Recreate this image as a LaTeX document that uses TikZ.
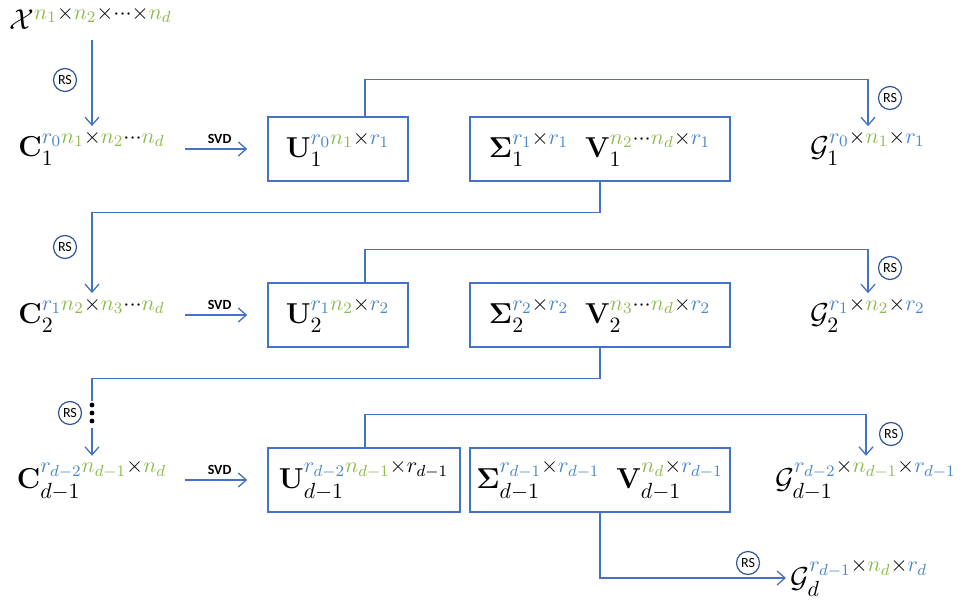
\documentclass[tikz,border=0pt]{standalone}
\usepackage[no-math]{fontspec}
\setsansfont{Carlito}
\usepackage{amsmath}
\usetikzlibrary{arrows.meta}

\definecolor{lineblue}{HTML}{4472C4}
\definecolor{rsblue}{HTML}{2F5597}
\definecolor{rankblue}{HTML}{4A87C8}
\definecolor{dimgreen}{HTML}{8DBA4E}

\DeclareMathSizes{14.4}{14.4}{11}{8.5}

% ranks in blue, dimensions in green
\newcommand{\rk}[1]{\textcolor{rankblue}{#1}}
\newcommand{\dm}[1]{\textcolor{dimgreen}{#1}}

\begin{document}
\begin{tikzpicture}[x=0.5pt,y=-0.5pt,
	flow/.style={lineblue, line width=0.65pt, -{Straight Barb[length=4pt,width=7pt]}},
	wire/.style={lineblue, line width=0.65pt},
	box/.style={draw=lineblue, line width=0.75pt, minimum height=32pt, inner sep=0pt, font=\Large},
	tens/.style={font=\Large, inner sep=2pt},
	rs/.style={circle, draw=rsblue, line width=0.6pt, minimum size=11.5pt, inner sep=0pt, font=\sffamily\fontsize{7}{7}\selectfont},
	svd/.style={black, font=\sffamily\bfseries\fontsize{7}{8}\selectfont, inner sep=2.5pt}]

	\useasboundingbox (0,0) rectangle (962,608);

	%tensors on the left
	\node[tens] (X) at (91,18) {$\mathcal{X}^{\dm{n_1}\times\dm{n_2}\times\cdots\times\dm{n_d}}$};
	\node[tens] (C1) at (92,148) {$\mathbf{C}_1^{\rk{r_0}\dm{n_1}\times\dm{n_2}\cdots\dm{n_d}}$};
	\node[tens] (C2) at (92,315) {$\mathbf{C}_2^{\rk{r_1}\dm{n_2}\times\dm{n_3}\cdots\dm{n_d}}$};
	\node[tens] (Cd) at (92,480) {$\mathbf{C}_{d-1}^{\rk{r_{d-2}}\dm{n_{d-1}}\times\dm{n_d}}$};

	%SVD factors
	\node[box, minimum width=70pt] (U1) at (338,149) {$\mathbf{U}_1^{\rk{r_0}\dm{n_1}\times\rk{r_1}}$};
	\node[box, minimum width=130pt] (SV1) at (600,149) {$\mathbf{\Sigma}_1^{\rk{r_1}\times\rk{r_1}}\;\;\mathbf{V}_1^{\dm{n_2}\cdots\dm{n_d}\times\rk{r_1}}$};
	\node[box, minimum width=70pt] (U2) at (338,315) {$\mathbf{U}_2^{\rk{r_1}\dm{n_2}\times\rk{r_2}}$};
	\node[box, minimum width=130pt] (SV2) at (600,315) {$\mathbf{\Sigma}_2^{\rk{r_2}\times\rk{r_2}}\;\;\mathbf{V}_2^{\dm{n_3}\cdots\dm{n_d}\times\rk{r_2}}$};
	\node[box, minimum width=96pt] (Ud) at (364,480) {$\mathbf{U}_{d-1}^{\rk{r_{d-2}}\dm{n_{d-1}}\times r_{d-1}}$};
	\node[box, minimum width=130pt] (SVd) at (600,480) {$\mathbf{\Sigma}_{d-1}^{\rk{r_{d-1}}\times\rk{r_{d-1}}}\;\;\mathbf{V}_{d-1}^{\dm{n_d}\times\rk{r_{d-1}}}$};

	%cores on the right
	\node[tens] (G1) at (868,148) {$\mathcal{G}_1^{\rk{r_0}\times\dm{n_1}\times\rk{r_1}}$};
	\node[tens] (G2) at (868,315) {$\mathcal{G}_2^{\rk{r_1}\times\dm{n_2}\times\rk{r_2}}$};
	\node[tens] (Gd1) at (866,480) {$\mathcal{G}_{d-1}^{\rk{r_{d-2}}\times\dm{n_{d-1}}\times\rk{r_{d-1}}}$};
	\node[tens, anchor=west] (Gd) at (786,578) {$\mathcal{G}_d^{\rk{r_{d-1}}\times\dm{n_d}\times\rk{r_d}}$};

	\coordinate (svdx) at (185,0);
	\coordinate (ux) at (365,0);
	\coordinate (dtop) at (92,401);
	\coordinate (dbot) at (92,428);

	%reshape arrows
	\draw[flow, shorten <=3pt] (X.south -| C1.north) -- (C1.north);
	\draw[flow] (SV1.south) -- ++(0,31) -| (C2.north);
	\draw[wire] (SV2.south) -- ++(0,31) -| (dtop);
	\draw[flow] (dbot) -- (Cd.north);
	\foreach \y in {405,413,421}
		\fill (92,\y) circle (1.2pt);

	%SVD arrows
	\foreach \row in {1,2,d}
	{
		\draw[flow, shorten >=10pt] (svdx |- U\row.west) -- node[svd, above, pos=0.42] {SVD} (U\row.west);
	}

	%U to cores
	\draw[flow] (ux |- U1.north) -- ++(0,-37) -| (G1.north);
	\draw[flow] (ux |- U2.north) -- ++(0,-33) -| (G2.north);
	\draw[flow] (ux |- Ud.north) -- ++(0,-33) -| (Gd1.north);
	\draw[flow] (SVd.south) |- (Gd.west);

	%RS marks
	\foreach \name/\position in {rsa/{65,80}, rsb/{890,98}, rsc/{65,247}, rsd/{890,268}, rse/{70,413}, rsf/{891,434}, rsg/{748,563}}
	{
		\node[rs] (\name) at (\position) {RS};
	}

\end{tikzpicture}
\end{document}
